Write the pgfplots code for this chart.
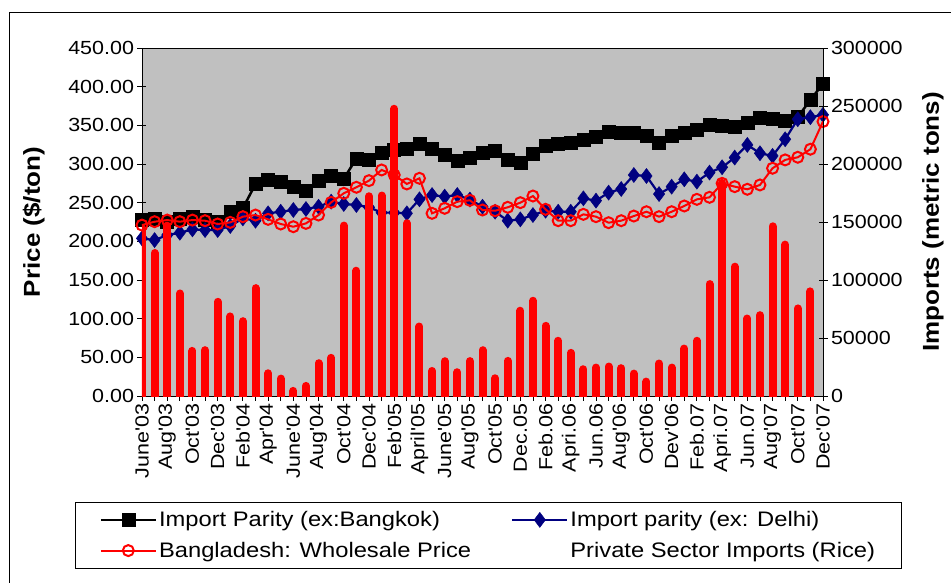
\documentclass[border=0pt]{standalone}
\usepackage{fontspec}
\setmainfont{Liberation Sans}[FakeStretch=1.13]
\usepackage{pgfplots}
\usepackage{pgfplotstable}
\pgfplotsset{compat=1.18}
\definecolor{plotgray}{RGB}{192,192,192}
\definecolor{navyb}{RGB}{0,0,128}
\newcommand{\q}{\textquotesingle}
\newcommand{\tickfont}{\fontsize{19bp}{21bp}\selectfont}
\newcommand{\legfont}{\fontsize{21bp}{24bp}\selectfont}
\newcommand{\labfont}{\fontsize{23bp}{26bp}\selectfont\bfseries}

\pgfplotstableread{
x bkk del bd imp
0 228 203.8 221 144600
1 229 201.6 225.4 123300
2 225 208.1 227.5 146900
3 229 211.1 225.4 88400
4 232 215.5 227.5 38900
5 228 214.6 226.7 39500
6 225 214.6 222.4 81200
7 238 219.8 224.5 68600
8 243 229.7 231.9 64500
9 274 226.7 234 93000
10 279 236.2 228.4 19600
11 277 238.3 222.4 15000
12 270 240.5 218.9 4400
13 265 241.8 223.2 8700
14 278 244.8 234 28300
15 285 251.3 250.4 32900
16 281 248.3 262.1 146900
17 307 247 269.9 108000
18 305 244 278.5 172200
19 315 237.1 292.3 172800
20 319 237.1 285.8 247600
21 320 236.2 274.2 148900
22 326 254.3 281.5 59900
23 320 259.9 236.2 21600
24 312 257.8 242.7 30000
25 304 259.9 251.3 20500
26 308 254 253 30100
27 314.8 244.8 240.5 39500
28 317.4 238.3 239.6 15300
29 305.3 226.7 244 30300
30 301.8 228.4 250 73500
31 313 234 258.6 82100
32 323.4 239.6 241.4 60500
33 326 238.3 226.7 47600
34 327.7 238.3 226.7 37200
35 331.2 255.6 234.9 23100
36 334.6 252.6 231.9 24500
37 341.1 263 224.1 25400
38 339.8 267.7 226.7 24000
39 339.8 285.8 232.7 19300
40 336.4 284.5 238.3 12400
41 326.9 261.2 231.9 28000
42 336.4 270.7 238.3 24500
43 339.8 280.2 245.7 40900
44 344.1 277.2 254.3 47600
45 350.6 288.9 256.9 96500
46 349.3 295.8 275 183700
47 347.6 308.3 270.7 111500
48 352.8 324.7 267.3 66800
49 359.2 313.9 272.9 69700
50 357.9 310.5 294.5 146300
51 356.2 332 305.3 130500
52 360.5 357.9 308.7 75500
53 383 360.5 319.1 90200
54 403.7 363.6 354.9 nan
}\datatable

\pgfplotsset{
  bkkstyle/.style={black, line width=2.5bp, mark=square*, mark size=6.5bp, mark options={solid, line width=0.5bp}},
  delstyle/.style={navyb, line width=2.2bp, mark=diamond*, mark size=7.5bp, mark options={solid, line width=0.5bp}},
  bdstyle/.style={red, line width=2bp, mark=o, mark size=5.5bp, mark options={solid, line width=2bp}},
}

\begin{document}
\begin{tikzpicture}
\useasboundingbox (-142bp,-187bp) rectangle (809bp,396bp);
\draw[line width=1bp] (-132bp,-187bp) -- (-132bp,383bp) -- (809bp,383bp);
\begin{axis}[
  at={(0,0)}, anchor=south west,
  width=681bp, height=348bp, scale only axis,
  xmin=0, xmax=54, ymin=0, ymax=450,
  axis background/.style={fill=plotgray},
  axis line style={black, line width=0.8bp},
  tick align=center, major tick length=9bp, minor tick length=9bp,
  tick style={black, line width=0.8bp},
  xtick pos=bottom, ytick pos=left,
  xtick={0,2,...,54}, minor xtick={1,3,...,53},
  xticklabels={June\q03, Aug\q03, Oct\q03, Dec\q03, Feb\q04, Apr\q04, June\q04, Aug\q04, Oct\q04, Dec\q04, Feb\q05, April\q05, June\q05, Aug\q05, Oct\q05, Dec.05, Feb.06, Apri.06, Jun.06, Aug\q06, Oct\q06, Dev\q06, Feb.07, Apri.07, Jun.07, Aug\q07, Oct\q07, Dec\q07},
  xticklabel style={rotate=90, anchor=east, font=\tickfont},
  ytick={0,50,...,450},
  yticklabel style={font=\tickfont, /pgf/number format/fixed, /pgf/number format/fixed zerofill, /pgf/number format/precision=2, /pgf/number format/assume math mode=true},
  every axis y label/.style={at={(axis description cs:-0.159,0.5)}, rotate=90, anchor=center, font=\labfont},
  ylabel={Price (\$/ton)},
  clip mode=individual,
]
\addplot[bkkstyle] table[x=x, y=bkk] {\datatable};
\addplot[delstyle] table[x=x, y=del] {\datatable};
\addplot[bdstyle] table[x=x, y=bd] {\datatable};
\end{axis}
\begin{axis}[
  at={(0,0)}, anchor=south west,
  width=681bp, height=348bp, scale only axis,
  xmin=0, xmax=54, ymin=0, ymax=300000,
  axis x line=none, axis y line*=right,
  axis line style={black, line width=0.8bp},
  tick align=center, major tick length=9bp,
  tick style={black, line width=0.8bp},
  ytick={0,50000,...,300000},
  scaled y ticks=false,
  yticklabel style={font=\tickfont, /pgf/number format/fixed, /pgf/number format/1000 sep={}, /pgf/number format/assume math mode=true},
  every axis y label/.style={at={(axis description cs:1.1615,0.5)}, rotate=90, anchor=center, font=\labfont},
  ylabel={Imports (metric tons)},
  legend image code/.code={\draw[mark repeat=2, mark phase=2, #1] plot coordinates {(0bp,0bp) (27.5bp,0bp) (55bp,0bp)};},
  legend columns=2,
  legend cell align=left,
  legend style={at={(axis description cs:0.5085,-0.305)}, anchor=north, draw=black, line width=0.8bp, fill=white, font=\legfont,
    inner xsep=24bp, inner ysep=7bp, row sep=10bp,
    /tikz/every even column/.append style={column sep=38bp}},
]
\addlegendimage{bkkstyle}
\addlegendentry{Import Parity (ex:Bangkok)}
\addlegendimage{delstyle}
\addlegendentry{Import parity (ex: Delhi)}
\addlegendimage{bdstyle}
\addlegendentry{Bangladesh: Wholesale Price}
\addplot[red, ycomb, line width=8bp, line cap=round, mark=none, legend image code/.code={}] table[x=x, y=imp] {\datatable};
\addlegendentry{Private Sector Imports (Rice)}
\end{axis}
\end{tikzpicture}
\end{document}
